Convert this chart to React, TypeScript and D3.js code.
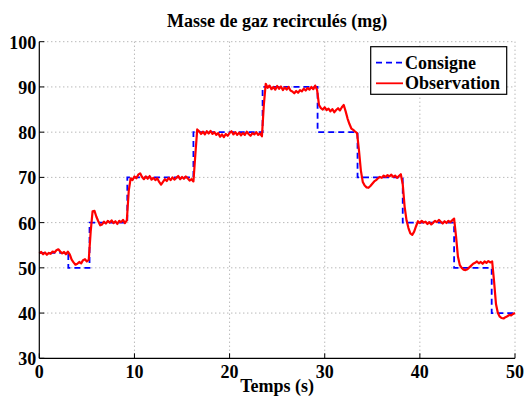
import React from "react";
import * as d3 from "d3";

const title = "Masse de gaz recirculés (mg)";
const xLabel = "Temps (s)";
const xTicks = [0, 10, 20, 30, 40, 50];
const yTicks = [30, 40, 50, 60, 70, 80, 90, 100];
const legendLabels = ["Consigne", "Observation"];

// Setpoint (Consigne): step profile [time, value]
const consigne: [number, number][] = [
  [0, 53.3], [3.05, 53.3], [3.05, 50], [5.28, 50], [5.28, 60], [9.25, 60],
  [9.25, 70], [16.2, 70], [16.2, 80], [23.47, 80], [23.47, 90], [29.25, 90],
  [29.25, 80], [33.45, 80], [33.45, 70], [38.2, 70], [38.2, 60], [43.6, 60],
  [43.6, 50], [47.55, 50], [47.55, 40], [50, 40],
];

// Observation: measured signal [time, value]
const observation: [number, number][] = [
  [0, 53.2], [0.2, 53.5], [0.4, 53.0], [0.6, 53.4], [0.8, 52.9], [1.0, 53.3], [1.2, 53.1], [1.4, 53.6],
  [1.6, 53.4], [1.8, 53.9], [2.0, 54.1], [2.2, 53.6], [2.4, 53.2], [2.6, 53.5], [2.8, 53.0], [3.0, 53.6],
  [3.2, 53.0], [3.4, 51.8], [3.6, 51.2], [3.8, 50.7], [4.0, 50.9], [4.2, 51.3], [4.4, 51.0], [4.6, 51.7],
  [4.8, 51.9], [5.0, 51.4], [5.2, 51.8], [5.4, 58.0], [5.6, 62.5], [5.8, 62.6], [6.0, 61.3], [6.2, 60.3],
  [6.4, 59.4], [6.6, 59.6], [6.8, 60.2], [7.0, 59.8], [7.2, 60.4], [7.4, 60.0], [7.6, 60.5], [7.8, 59.9],
  [8.0, 60.3], [8.2, 59.7], [8.4, 60.4], [8.6, 60.1], [8.8, 60.6], [9.0, 59.9], [9.2, 60.5], [9.4, 67.0],
  [9.6, 69.8], [9.8, 69.4], [10.0, 70.2], [10.2, 69.8], [10.4, 70.6], [10.6, 70.9], [10.8, 70.1], [11.0, 69.6],
  [11.2, 70.2], [11.4, 69.7], [11.6, 70.3], [11.8, 69.5], [12.0, 69.9], [12.2, 69.4], [12.4, 69.8], [12.6, 69.0],
  [12.8, 68.4], [13.0, 69.0], [13.2, 69.6], [13.4, 69.2], [13.6, 69.9], [13.8, 69.4], [14.0, 70.0], [14.2, 69.5],
  [14.4, 69.9], [14.6, 70.3], [14.8, 69.6], [15.0, 70.1], [15.2, 69.7], [15.4, 70.2], [15.6, 69.8], [15.8, 69.3],
  [16.0, 69.6], [16.2, 69.1], [16.4, 75.0], [16.6, 80.6], [16.8, 80.2], [17.0, 79.6], [17.2, 80.1], [17.4, 79.5],
  [17.6, 80.2], [17.8, 79.7], [18.0, 80.3], [18.2, 79.6], [18.4, 80.0], [18.6, 79.4], [18.8, 79.8], [19.0, 79.0],
  [19.2, 79.5], [19.4, 78.9], [19.6, 79.6], [19.8, 79.2], [20.0, 79.8], [20.2, 80.2], [20.4, 79.5], [20.6, 80.0],
  [20.8, 79.4], [21.0, 79.9], [21.2, 79.3], [21.4, 79.8], [21.6, 79.4], [21.8, 80.1], [22.0, 79.6], [22.2, 79.2],
  [22.4, 79.8], [22.6, 79.5], [22.8, 80.0], [23.0, 79.4], [23.2, 79.7], [23.4, 79.1], [23.6, 86.0], [23.8, 90.7],
  [24.0, 89.8], [24.2, 90.3], [24.4, 89.5], [24.6, 90.0], [24.8, 89.4], [25.0, 90.2], [25.2, 89.6], [25.4, 90.1],
  [25.6, 89.3], [25.8, 89.9], [26.0, 89.4], [26.2, 90.0], [26.4, 89.2], [26.6, 89.0], [26.8, 88.6], [27.0, 89.1],
  [27.2, 88.7], [27.4, 89.3], [27.6, 89.0], [27.8, 89.6], [28.0, 89.2], [28.2, 89.8], [28.4, 89.4], [28.6, 90.0],
  [28.8, 89.5], [29.0, 90.3], [29.2, 89.3], [29.4, 86.0], [29.6, 85.3], [29.8, 85.0], [30.0, 85.5], [30.2, 84.9],
  [30.4, 85.2], [30.6, 84.6], [30.8, 85.1], [31.0, 84.4], [31.2, 84.9], [31.4, 85.3], [31.6, 84.8], [31.8, 85.5],
  [32.0, 86.0], [32.2, 84.6], [32.4, 83.0], [32.6, 81.8], [32.8, 80.8], [33.0, 80.5], [33.2, 80.1], [33.4, 79.8],
  [33.6, 76.0], [33.8, 71.5], [34.0, 69.0], [34.2, 68.2], [34.4, 67.8], [34.6, 67.7], [34.8, 68.1], [35.0, 68.6],
  [35.2, 69.1], [35.4, 69.4], [35.6, 69.8], [35.8, 70.1], [36.0, 69.9], [36.2, 70.4], [36.4, 70.1], [36.6, 70.5],
  [36.8, 70.2], [37.0, 70.6], [37.2, 70.1], [37.4, 70.4], [37.6, 69.9], [37.8, 70.3], [38.0, 70.7], [38.2, 68.5],
  [38.4, 63.5], [38.6, 60.5], [38.8, 58.8], [39.0, 57.6], [39.2, 57.3], [39.4, 58.0], [39.6, 59.2], [39.8, 60.3],
  [40.0, 59.9], [40.2, 60.4], [40.4, 60.0], [40.6, 60.2], [40.8, 59.7], [41.0, 60.1], [41.2, 59.6], [41.4, 60.0],
  [41.6, 60.4], [41.8, 60.1], [42.0, 60.6], [42.2, 60.2], [42.4, 59.8], [42.6, 60.3], [42.8, 59.9], [43.0, 60.4],
  [43.2, 60.1], [43.4, 60.5], [43.6, 60.9], [43.8, 57.0], [44.0, 52.5], [44.2, 50.6], [44.4, 50.0], [44.6, 49.6],
  [44.8, 49.5], [45.0, 49.7], [45.2, 50.1], [45.4, 50.5], [45.6, 50.9], [45.8, 51.1], [46.0, 51.4], [46.2, 51.0],
  [46.4, 51.3], [46.6, 50.9], [46.8, 51.4], [47.0, 51.1], [47.2, 51.5], [47.4, 51.2], [47.6, 51.4], [47.8, 47.0],
  [48.0, 42.0], [48.2, 40.0], [48.4, 39.2], [48.6, 38.9], [48.8, 38.8], [49.0, 39.1], [49.2, 39.3], [49.4, 39.6],
  [49.6, 39.5], [49.8, 39.8], [50.0, 40.0],
];

const W = 529;
const H = 399;
const M = { left: 39.3, right: 515, top: 41.7, bottom: 358.3 };
const FONT = "'Liberation Serif', 'Times New Roman', serif";

export default function App() {
  const x = d3.scaleLinear().domain([0, 50]).range([M.left, M.right]);
  const y = d3.scaleLinear().domain([30, 100]).range([M.bottom, M.top]);
  const line = d3
    .line<[number, number]>()
    .x((d) => x(d[0]))
    .y((d) => y(d[1]));

  const gridColor = "#9a9a9a";
  const legX = 370.7;
  const legY = 46.7;
  const legW = 136;
  const legH = 47.6;

  return (
    <svg
      width={W}
      height={H}
      style={{ position: "absolute", left: 0, top: 0, background: "#fff" }}
      fontFamily={FONT}
      fontWeight="bold"
    >
      <rect x={0} y={0} width={W} height={H} fill="#fff" />
      {/* grid */}
      {yTicks
        .filter((t) => t !== 30)
        .map((t) => (
          <line
            key={"gy" + t}
            x1={M.left}
            x2={M.right}
            y1={y(t)}
            y2={y(t)}
            stroke={gridColor}
            strokeWidth={1}
            strokeDasharray="1,3"
          />
        ))}
      {xTicks
        .filter((t) => t !== 0)
        .map((t) => (
          <line
            key={"gx" + t}
            x1={x(t)}
            x2={x(t)}
            y1={M.top}
            y2={M.bottom}
            stroke={gridColor}
            strokeWidth={1}
            strokeDasharray="1,3"
          />
        ))}
      {/* data */}
      <path
        d={line(consigne) || ""}
        fill="none"
        stroke="#0000ff"
        strokeWidth={1.8}
        strokeDasharray="6,4"
      />
      <path
        d={line(observation) || ""}
        fill="none"
        stroke="#ff0000"
        strokeWidth={2.2}
        strokeLinejoin="round"
      />
      {/* axes */}
      <line x1={M.left} x2={M.right} y1={M.bottom} y2={M.bottom} stroke="#000" strokeWidth={1.2} />
      <line x1={M.left} x2={M.left} y1={M.top} y2={M.bottom} stroke="#000" strokeWidth={1.2} />
      {xTicks.map((t) => (
        <g key={"xt" + t}>
          <line x1={x(t)} x2={x(t)} y1={M.bottom} y2={M.bottom - 5} stroke="#000" strokeWidth={1} />
          <text x={x(t)} y={M.bottom + 20} textAnchor="middle" fontSize={18}>
            {t}
          </text>
        </g>
      ))}
      {yTicks.map((t) => (
        <g key={"yt" + t}>
          <line x1={M.left} x2={M.left + 5} y1={y(t)} y2={y(t)} stroke="#000" strokeWidth={1} />
          <text x={M.left - 3} y={y(t) + 7} textAnchor="end" fontSize={18}>
            {t}
          </text>
        </g>
      ))}
      {/* titles */}
      <text x={(M.left + M.right) / 2} y={27} textAnchor="middle" fontSize={18}>
        {title}
      </text>
      <text x={(M.left + M.right) / 2} y={392} textAnchor="middle" fontSize={18}>
        {xLabel}
      </text>
      {/* legend */}
      <rect x={legX} y={legY} width={legW} height={legH} fill="#fff" stroke="#000" strokeWidth={1.2} />
      <line x1={376} x2={403} y1={62.7} y2={62.7} stroke="#0000ff" strokeWidth={1.8} strokeDasharray="6,4" />
      <line x1={376} x2={403} y1={83.3} y2={83.3} stroke="#ff0000" strokeWidth={1.8} />
      <text x={405} y={68.7} fontSize={18}>
        {legendLabels[0]}
      </text>
      <text x={405} y={89.3} fontSize={18}>
        {legendLabels[1]}
      </text>
    </svg>
  );
}
